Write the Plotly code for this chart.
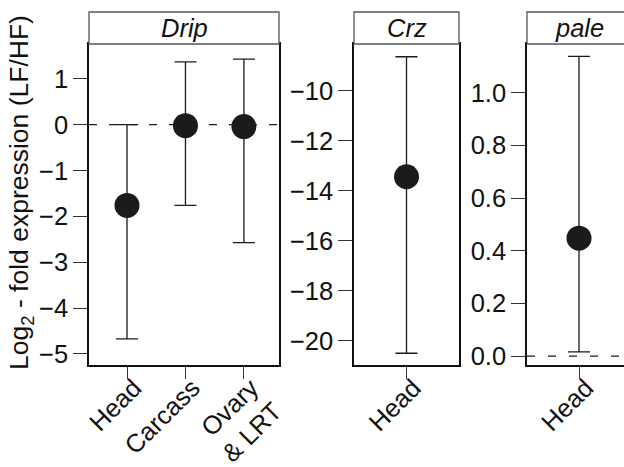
import plotly.graph_objects as go

# ---- data ----
drip_tissues = ["Head", "Carcass", "Ovary<br>& LRT"]
drip_mean = [-1.76, -0.02, -0.04]
drip_upper = [0.0, 1.37, 1.43]
drip_lower = [-4.67, -1.76, -2.57]

crz_tissues = ["Head"]
crz_mean = [-13.44]
crz_upper = [-8.64]
crz_lower = [-20.5]

pale_tissues = ["Head"]
pale_mean = [0.448]
pale_upper = [1.139]
pale_lower = [0.016]

panel_titles = ["Drip", "Crz", "pale"]
y_title = "Log<sub>2</sub> - fold expression (LF/HF)"

# ---- style ----
W, H = 624, 467
FONT = "Liberation Sans, Arial, Helvetica, sans-serif"
INK = "#1c1a1b"
FS = 25.5

def px_x(p):
    return p / W

def px_y(p):
    return (H - p) / H

plot_top, plot_bot = 44, 365
strip_top = 12
ydom = [px_y(plot_bot), px_y(plot_top)]

panels = [
    dict(tiss=drip_tissues, mean=drip_mean, up=drip_upper, lo=drip_lower,
         xdom=[px_x(89), px_x(279)], xr=[0.35, 3.6], yr=[-5.24, 1.76],
         dtick=1, tickformat="d", mirror=True, zero=True, dash="8px,12px"),
    dict(tiss=crz_tissues, mean=crz_mean, up=crz_upper, lo=crz_lower,
         xdom=[px_x(354), px_x(459)], xr=[0.5, 1.5], yr=[-20.97, -8.13],
         dtick=2, tickformat="d", mirror=True, zero=False, dash=None),
    dict(tiss=pale_tissues, mean=pale_mean, up=pale_upper, lo=pale_lower,
         xdom=[px_x(527), 1.0], xr=[0.5, 0.5 + 97 / 104], yr=[-0.034, 1.186],
         dtick=0.2, tickformat=".1f", mirror=False, zero=True, dash="8px,13px"),
]

fig = go.Figure()
shapes = []
annotations = []

for i, p in enumerate(panels):
    n = i + 1
    xa = "x" if n == 1 else f"x{n}"
    ya = "y" if n == 1 else f"y{n}"
    xs = list(range(1, len(p["tiss"]) + 1))
    fig.add_trace(go.Scatter(
        x=xs, y=p["mean"], xaxis=xa, yaxis=ya, mode="markers",
        marker=dict(size=25, color=INK, line=dict(width=0)),
        error_y=dict(type="data", symmetric=False,
                     array=[u - m for u, m in zip(p["up"], p["mean"])],
                     arrayminus=[m - l for m, l in zip(p["mean"], p["lo"])],
                     color=INK, thickness=1.3, width=11),
        showlegend=False, hoverinfo="skip", cliponaxis=False,
    ))
    axis_common = dict(showgrid=False, zeroline=False, showline=True,
                       linecolor="#111111", linewidth=1.5, ticks="outside",
                       tickcolor="#333333", tickwidth=1.1, automargin=False,
                       tickfont=dict(family=FONT, size=FS, color="#111111"))
    fig.layout[("xaxis" if n == 1 else f"xaxis{n}")] = dict(
        domain=p["xdom"], range=p["xr"], anchor=ya,
        tickvals=xs, ticktext=p["tiss"], tickangle=-45, ticklen=12,
        ticklabelstandoff=-16, ticklabelshift=7,
        mirror=True, **axis_common)
    fig.layout[("yaxis" if n == 1 else f"yaxis{n}")] = dict(
        domain=ydom, range=p["yr"], anchor=xa, dtick=p["dtick"],
        tick0=0, tickformat=p["tickformat"], ticklen=14,
        mirror=p["mirror"], **axis_common)
    if p["zero"]:
        shapes.append(dict(type="line", xref=f"{xa} domain", yref=ya,
                           x0=0, x1=1, y0=0, y1=0, layer="below",
                           line=dict(color=INK, width=1.3, dash=p["dash"])))
    # header strip
    x1 = p["xdom"][1] if p["mirror"] else 1.05
    shapes.append(dict(type="rect", xref="paper", yref="paper",
                       x0=p["xdom"][0], x1=x1, y0=px_y(plot_top), y1=px_y(strip_top),
                       line=dict(color="#555555", width=1.3), fillcolor="white"))
    cx = (p["xdom"][0] + (p["xdom"][1] if p["mirror"] else px_x(631))) / 2
    annotations.append(dict(text=f"<i>{panel_titles[i]}</i>", xref="paper", yref="paper",
                            x=cx, y=(px_y(plot_top) + px_y(strip_top)) / 2,
                            xanchor="center", yanchor="middle", showarrow=False,
                            font=dict(family=FONT, size=FS, color="#111111")))

annotations.append(dict(text=y_title, xref="paper", yref="paper",
                        x=px_x(21), y=px_y(193), textangle=-90,
                        xanchor="center", yanchor="middle", showarrow=False,
                        font=dict(family=FONT, size=26.5, color="#111111")))

fig.update_layout(width=W, height=H, margin=dict(l=0, r=0, t=0, b=0),
                  paper_bgcolor="white", plot_bgcolor="white",
                  shapes=shapes, annotations=annotations,
                  font=dict(family=FONT, size=FS, color="#111111"))

fig.write_html("out.html", config={"displayModeBar": False},
               post_script="document.body.style.margin='0px';"
                           "document.body.style.overflow='hidden';")
